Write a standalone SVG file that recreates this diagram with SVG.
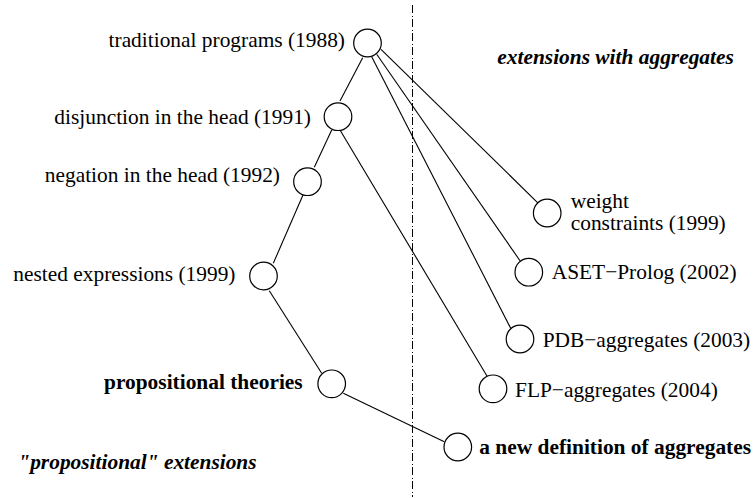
<svg xmlns="http://www.w3.org/2000/svg" width="754" height="498" viewBox="0 0 754 498">
<style>
text{font-family:"Liberation Serif","Times New Roman",serif;font-size:21.4px;fill:#000}
.r{text-anchor:end}
.b{font-weight:bold}
.bi{font-weight:bold;font-style:italic}
circle{fill:#fff;stroke:#000;stroke-width:1.2}
#edges line{stroke:#000;stroke-width:1.1}
.sep{stroke:#000;stroke-width:1;stroke-dasharray:8 3 1 2}
</style>
<rect width="754" height="498" fill="#fff"/>
<line class="sep" x1="412.5" y1="5" x2="412.5" y2="497"/>
<g id="edges">
<line x1="362.7" y1="57.7" x2="340" y2="101"/>
<line x1="381" y1="49.3" x2="538.3" y2="203.3"/>
<line x1="376.7" y1="54.3" x2="520" y2="260.7"/>
<line x1="371.7" y1="56.7" x2="510.7" y2="328.3"/>
<line x1="331.7" y1="130" x2="314.3" y2="167.3"/>
<line x1="340" y1="130" x2="488.3" y2="378.3"/>
<line x1="303.3" y1="194.3" x2="273.3" y2="263.3"/>
<line x1="269.3" y1="290.7" x2="321.7" y2="373.3"/>
<line x1="343.3" y1="393.3" x2="444.3" y2="441.7"/>
</g>
<g id="traditional"><circle cx="367.5" cy="43" r="13.8"/><text class="r" x="345" y="47">traditional programs (1988)</text></g>
<g id="disjunction"><circle cx="338" cy="116.7" r="13.8"/><text class="r" x="311" y="123.5">disjunction in the head (1991)</text></g>
<g id="negation"><circle cx="307.5" cy="181.7" r="13.8"/><text class="r" x="280" y="181.7">negation in the head (1992)</text></g>
<g id="nested"><circle cx="263.5" cy="276" r="13.8"/><text class="r" x="235.5" y="281">nested expressions (1999)</text></g>
<g id="propositional"><circle cx="331.7" cy="383.8" r="13.8"/><text class="r b" x="302.7" y="389">propositional theories</text></g>
<g id="newdef"><circle cx="457.8" cy="447" r="13.8"/><text class="b" x="479.3" y="454">a new definition of aggregates</text></g>
<g id="weight"><circle cx="547.2" cy="213" r="13.8"/><text x="570.7" y="208.3">weight</text><text x="570.7" y="230">constraints (1999)</text></g>
<g id="aset"><circle cx="528.8" cy="272.2" r="13.8"/><text x="551.7" y="279.3">ASET−Prolog (2002)</text></g>
<g id="pdb"><circle cx="520" cy="339" r="13.8"/><text x="542.7" y="346.7">PDB−aggregates (2003)</text></g>
<g id="flp"><circle cx="493" cy="388.8" r="13.8"/><text x="515" y="396.7">FLP−aggregates (2004)</text></g>
<text class="bi" x="497.3" y="64.3">extensions with aggregates</text>
<text class="bi" x="18.3" y="469.3">"propositional" extensions</text>
</svg>
